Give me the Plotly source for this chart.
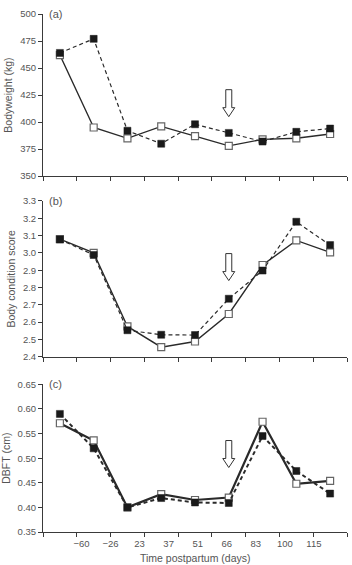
import plotly.graph_objects as go

# ---- data ----
days = ["\u221260", "\u221226", "23", "37", "51", "66", "83", "100", "115"]
bw_open = [462, 395, 385, 396, 387, 378, 384, 385, 389]
bw_filled = [464, 477, 392, 380, 398, 390, 382, 391, 394]
bcs_open = [3.08, 3.00, 2.575, 2.455, 2.488, 2.647, 2.93, 3.072, 3.003]
bcs_filled = [3.078, 2.988, 2.553, 2.527, 2.525, 2.735, 2.898, 3.18, 3.045]
dbft_open = [0.571, 0.536, 0.400, 0.427, 0.415, 0.420, 0.574, 0.448, 0.454]
dbft_filled = [0.590, 0.520, 0.400, 0.419, 0.410, 0.409, 0.545, 0.474, 0.428]
arrow_index = 5  # arrow marks the 66-day time point

x = list(range(len(days)))
n = len(days)

AX = "#3a3a3a"
TXT = "#555555"
FONT = "Liberation Sans, Arial, sans-serif"

fig = go.Figure()

panels = [
    ("x", "y", bw_open, bw_filled, 1.4, 1.2),
    ("x2", "y2", bcs_open, bcs_filled, 1.4, 1.2),
    ("x3", "y3", dbft_open, dbft_filled, 2.2, 2.0),
]
for xa, ya, op, fi, wo, wf in panels:
    fig.add_trace(go.Scatter(
        x=x, y=op, xaxis=xa, yaxis=ya, mode="lines+markers",
        line=dict(color="#2a2a2a", width=wo),
        marker=dict(symbol="square", size=7, color="white",
                    line=dict(color="#666666", width=1.2)),
        showlegend=False))
    fig.add_trace(go.Scatter(
        x=x, y=fi, xaxis=xa, yaxis=ya, mode="lines+markers",
        line=dict(color="#2a2a2a", width=wf, dash="4px,3px"),
        marker=dict(symbol="square", size=7, color="#1a1a1a",
                    line=dict(color="#1a1a1a", width=0.5)),
        showlegend=False))

bounds = [i - 0.5 for i in range(n + 1)]
xcommon = dict(range=[-0.5, n - 0.5], tickvals=bounds, ticks="outside",
               ticklen=4, tickcolor=AX, showticklabels=False,
               showline=True, linecolor=AX, linewidth=1,
               showgrid=False, zeroline=False, domain=[0, 1])
ycommon = dict(ticks="outside", ticklen=4, tickcolor=AX, showline=True,
               linecolor=AX, linewidth=1, showgrid=False, zeroline=False,
               tickfont=dict(size=9.5, color=TXT, family=FONT),
               title=dict(font=dict(size=10.5, color=TXT, family=FONT),
                          standoff=5))

doms = [[0.687, 1.0], [0.3384, 0.639], [0.0, 0.285]]

label_pos = [0.64 + 0.86 * k for k in range(n)]

fig.update_layout(
    width=352, height=565,
    margin=dict(l=39, r=5, t=14, b=33),
    paper_bgcolor="white", plot_bgcolor="white",
    font=dict(family=FONT, color=TXT),
    xaxis=dict(xcommon, anchor="y"),
    xaxis2=dict(xcommon, anchor="y2"),
    xaxis3=dict(xcommon, anchor="y3"),
    xaxis4=dict(range=[-0.5, n - 0.5], overlaying="x3", anchor="y3",
                side="bottom", tickvals=label_pos, ticktext=days,
                ticks="outside", ticklen=3, tickcolor="rgba(0,0,0,0)",
                showline=False, showgrid=False, zeroline=False,
                tickfont=dict(size=9.5, color=TXT, family=FONT)),
    yaxis=dict(ycommon, domain=doms[0], range=[350, 500], dtick=25,
               anchor="x", title_text="Bodyweight (kg)"),
    yaxis2=dict(ycommon, domain=doms[1], range=[2.4, 3.3], dtick=0.1,
                tickformat=".1f", anchor="x2",
                title_text="Body condition score"),
    yaxis3=dict(ycommon, domain=doms[2], range=[0.35, 0.65], dtick=0.05,
                tickformat=".2f", anchor="x3", title_text="DBFT (cm)"),
)
# invisible trace so the overlay label axis is drawn
fig.add_trace(go.Scatter(x=[0], y=[0.5], xaxis="x4", yaxis="y3",
                         mode="markers", marker=dict(opacity=0),
                         showlegend=False, hoverinfo="skip"))

# x-axis title
fig.add_annotation(text="Time postpartum (days)", x=0.5, y=0,
                   xref="paper", yref="paper", xanchor="center",
                   yanchor="middle", yshift=-25.5, showarrow=False,
                   font=dict(size=10.5, color=TXT, family=FONT))

# panel labels
for lab, ya, top in [("(a)", "y", 500), ("(b)", "y2", 3.3), ("(c)", "y3", 0.65)]:
    fig.add_annotation(text=lab, x=-0.38, y=top, xref="x", yref=ya,
                       xanchor="left", yanchor="middle", showarrow=False,
                       font=dict(size=11, color=TXT, family=FONT))

# hollow down arrows
arrow_path = "M -3 27 L 3 27 L 3 9 L 6 9 L 0 0 L -6 9 L -3 9 Z"
for ya, xa, tip in [("y", "x", 405), ("y2", "x2", 2.84), ("y3", "x3", 0.481)]:
    fig.add_shape(type="path", path=arrow_path, xref=xa, yref=ya,
                  xsizemode="pixel", ysizemode="pixel",
                  xanchor=arrow_index, yanchor=tip,
                  line=dict(color="#333333", width=1), fillcolor="white")

fig.write_html("out.html")
